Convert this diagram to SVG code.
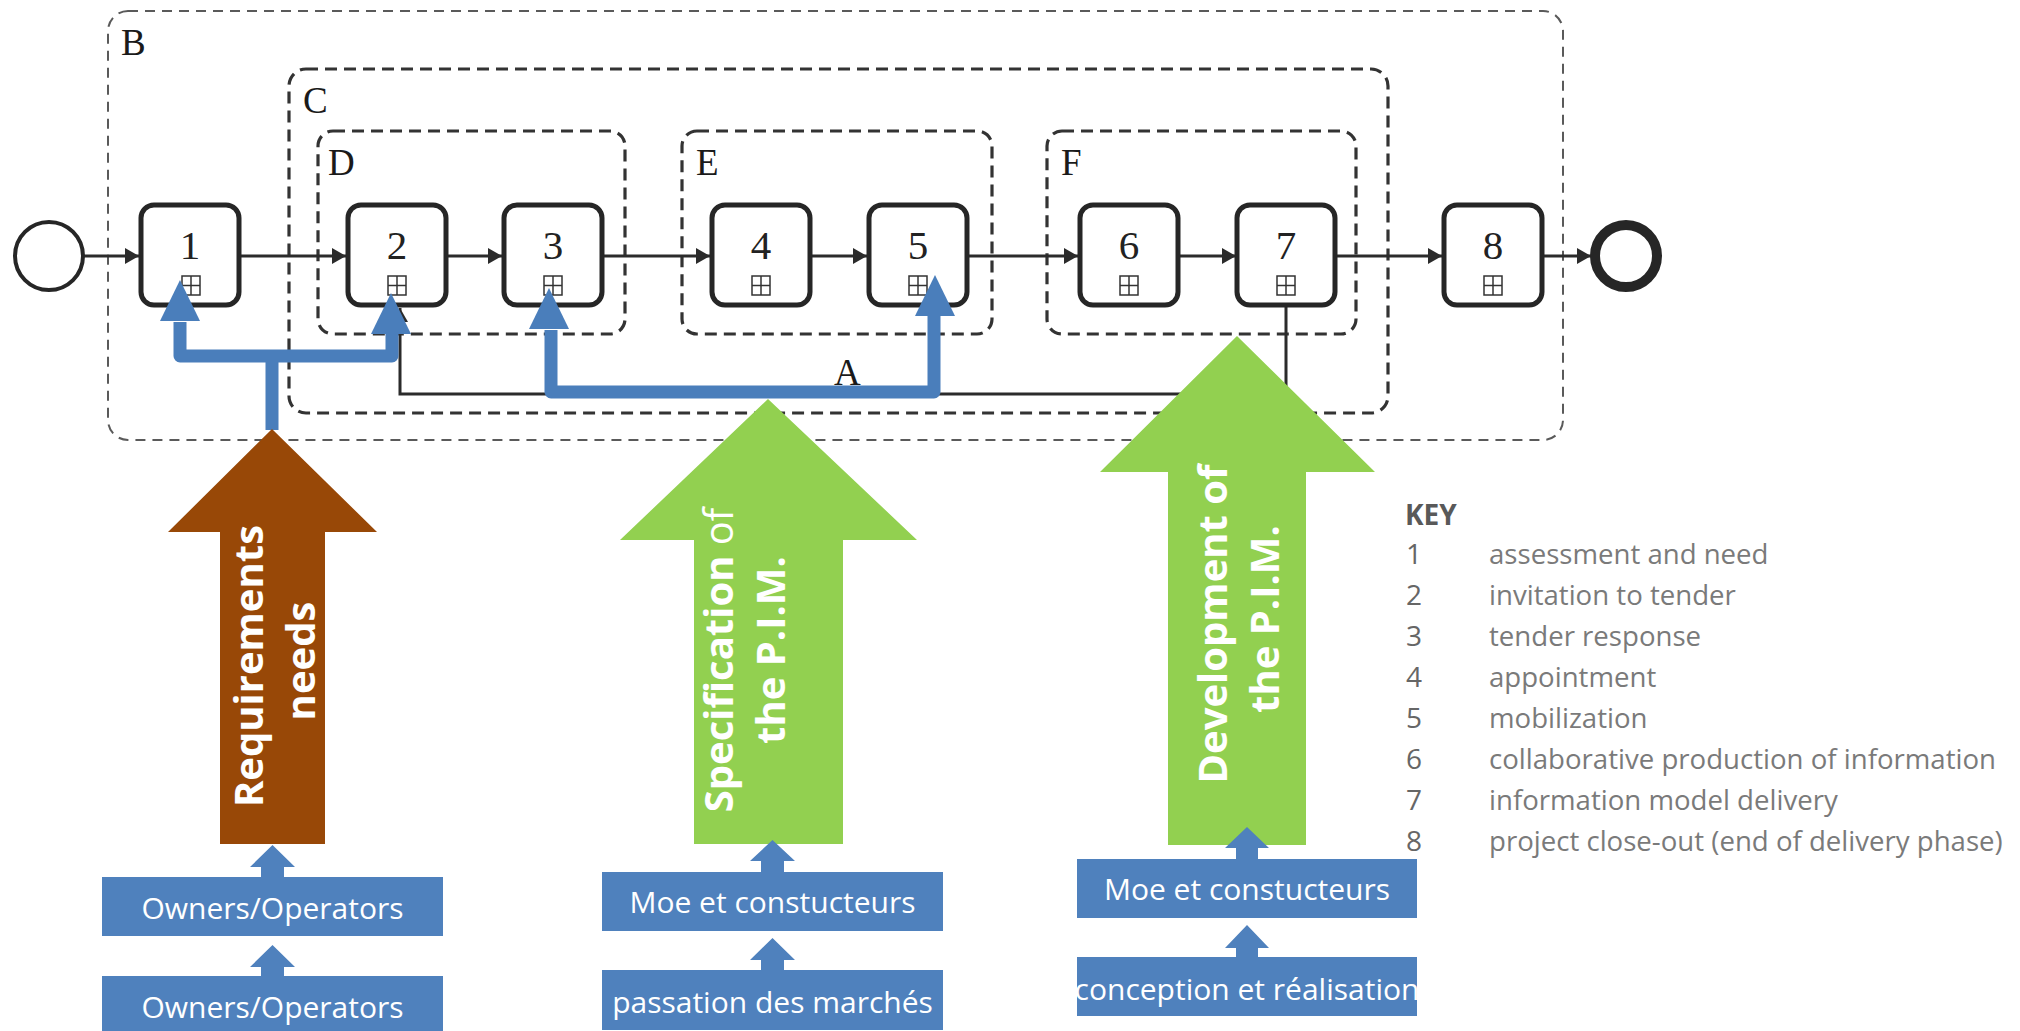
<svg xmlns="http://www.w3.org/2000/svg" width="2020" height="1031" viewBox="0 0 2020 1031">
<style>
.grpB{fill:none;stroke:#5a5a5a;stroke-width:2;stroke-dasharray:10 7}
.grp{fill:none;stroke:#333;stroke-width:3.2;stroke-dasharray:12 7}
.lbl{font-family:"Liberation Serif",serif;font-size:37px;fill:#1a1a1a}
.task rect.b{fill:#fff;stroke:#262626;stroke-width:5}
.task text{font-family:"Liberation Serif",serif;font-size:41px;fill:#222;text-anchor:middle}
.task .pm{fill:#fff;stroke:#333;stroke-width:1.5}
.task line{stroke:#333;stroke-width:1.5}
.seq{fill:none;stroke:#2b2b2b;stroke-width:3}
.blue{fill:none;stroke:#4a7ebb;stroke-width:13;stroke-linejoin:round}
.bhead{fill:#4a7ebb}
.big{font-family:"Open Sans","Noto Sans",sans-serif;font-size:40px;font-weight:bold;fill:#fff;text-anchor:middle}
.sbox{fill:#4f81bd}
.stxt{font-family:"Open Sans","Noto Sans",sans-serif;font-size:30px;fill:#fff;text-anchor:middle}
.key{font-family:"Open Sans","Noto Sans",sans-serif;font-size:27.6px;fill:#7a7a7a}
.keyn{font-family:"Open Sans","Noto Sans",sans-serif;font-size:28px;fill:#666}
</style>
<defs>
<marker id="arr" viewBox="0 0 14 16" refX="14" refY="8" markerWidth="14" markerHeight="16" markerUnits="userSpaceOnUse" orient="auto">
<path d="M0,0 L14,8 L0,16 z" fill="#2b2b2b"/>
</marker>
</defs>
<rect width="2020" height="1031" fill="#fff"/>

<g id="groups">
<rect id="B" class="grpB" x="108" y="11" width="1455" height="429" rx="20"/>
<rect id="C" class="grp" x="289" y="69" width="1099" height="344" rx="17"/>
<rect id="D" class="grp" x="318" y="131" width="307" height="203" rx="15"/>
<rect id="E" class="grp" x="682" y="131" width="310" height="203" rx="15"/>
<rect id="F" class="grp" x="1047" y="131" width="309" height="203" rx="15"/>
<text class="lbl" x="121" y="55">B</text>
<text class="lbl" x="303" y="113">C</text>
<text class="lbl" x="328" y="175">D</text>
<text class="lbl" x="696" y="175">E</text>
<text class="lbl" x="1061" y="175">F</text>
<text class="lbl" x="834" y="385">A</text>
</g>

<g id="connectors">
<line class="seq" x1="83" y1="256" x2="139" y2="256" marker-end="url(#arr)"/>
<line class="seq" x1="241" y1="256" x2="346" y2="256" marker-end="url(#arr)"/>
<line class="seq" x1="448" y1="256" x2="502" y2="256" marker-end="url(#arr)"/>
<line class="seq" x1="604" y1="256" x2="710" y2="256" marker-end="url(#arr)"/>
<line class="seq" x1="812" y1="256" x2="867" y2="256" marker-end="url(#arr)"/>
<line class="seq" x1="969" y1="256" x2="1078" y2="256" marker-end="url(#arr)"/>
<line class="seq" x1="1180" y1="256" x2="1236" y2="256" marker-end="url(#arr)"/>
<line class="seq" x1="1337" y1="256" x2="1442" y2="256" marker-end="url(#arr)"/>
<line class="seq" x1="1543" y1="256" x2="1591" y2="256" marker-end="url(#arr)"/>
<path class="seq" d="M1286,307 V394 H400 V308" marker-end="url(#arr)"/>
</g>

<g id="start"><circle cx="49" cy="256" r="34" fill="#fff" stroke="#262626" stroke-width="4"/></g>
<g id="end"><circle cx="1626" cy="256" r="31" fill="#fff" stroke="#262626" stroke-width="10"/></g>

<g id="task1" class="task"><rect class="b" x="141" y="205" width="98" height="100" rx="13"/><text x="190" y="259">1</text><rect class="pm" x="182" y="276" width="18" height="19"/><line x1="191" y1="276" x2="191" y2="295"/><line x1="182" y1="285.5" x2="200" y2="285.5"/></g>
<g id="task2" class="task"><rect class="b" x="348" y="205" width="98" height="100" rx="13"/><text x="397" y="259">2</text><rect class="pm" x="388" y="276" width="18" height="19"/><line x1="397" y1="276" x2="397" y2="295"/><line x1="388" y1="285.5" x2="406" y2="285.5"/></g>
<g id="task3" class="task"><rect class="b" x="504" y="205" width="98" height="100" rx="13"/><text x="553" y="259">3</text><rect class="pm" x="544" y="276" width="18" height="19"/><line x1="553" y1="276" x2="553" y2="295"/><line x1="544" y1="285.5" x2="562" y2="285.5"/></g>
<g id="task4" class="task"><rect class="b" x="712" y="205" width="98" height="100" rx="13"/><text x="761" y="259">4</text><rect class="pm" x="752" y="276" width="18" height="19"/><line x1="761" y1="276" x2="761" y2="295"/><line x1="752" y1="285.5" x2="770" y2="285.5"/></g>
<g id="task5" class="task"><rect class="b" x="869" y="205" width="98" height="100" rx="13"/><text x="918" y="259">5</text><rect class="pm" x="909" y="276" width="18" height="19"/><line x1="918" y1="276" x2="918" y2="295"/><line x1="909" y1="285.5" x2="927" y2="285.5"/></g>
<g id="task6" class="task"><rect class="b" x="1080" y="205" width="98" height="100" rx="13"/><text x="1129" y="259">6</text><rect class="pm" x="1120" y="276" width="18" height="19"/><line x1="1129" y1="276" x2="1129" y2="295"/><line x1="1120" y1="285.5" x2="1138" y2="285.5"/></g>
<g id="task7" class="task"><rect class="b" x="1237" y="205" width="98" height="100" rx="13"/><text x="1286" y="259">7</text><rect class="pm" x="1277" y="276" width="18" height="19"/><line x1="1286" y1="276" x2="1286" y2="295"/><line x1="1277" y1="285.5" x2="1295" y2="285.5"/></g>
<g id="task8" class="task"><rect class="b" x="1444" y="205" width="98" height="100" rx="13"/><text x="1493" y="259">8</text><rect class="pm" x="1484" y="276" width="18" height="19"/><line x1="1493" y1="276" x2="1493" y2="295"/><line x1="1484" y1="285.5" x2="1502" y2="285.5"/></g>

<g id="blue-links">
<path class="blue" d="M272,430 V356"/>
<path class="blue" d="M180,322 V356 H392 V334"/>
<polygon class="bhead" points="180,280 200,321 160,321"/>
<polygon class="bhead" points="391,293 411,334 371,334"/>
<path class="blue" d="M551,330 V392 H934 V316"/>
<polygon class="bhead" points="549,288 569,329 529,329"/>
<polygon class="bhead" points="935,275 955,316 915,316"/>
</g>

<g id="req">
<polygon points="272,429 377,532 325,532 325,844 220,844 220,532 168,532" fill="#984807"/>
<text class="big" transform="translate(263,666) rotate(-90)">Requirements</text>
<text class="big" transform="translate(315,661) rotate(-90)">needs</text>
</g>
<g id="spec">
<polygon points="768,399 917,540 843,540 843,844 694,844 694,540 620,540" fill="#92d050"/>
<text class="big" transform="translate(733,660) rotate(-90)">Specification<tspan font-weight="normal"> of</tspan></text>
<text class="big" transform="translate(785,650) rotate(-90)">the P.I.M.</text>
</g>
<g id="dev">
<polygon points="1237,336 1375,472 1306,472 1306,845 1168,845 1168,472 1100,472" fill="#92d050"/>
<text class="big" transform="translate(1227,624) rotate(-90)">Development of</text>
<text class="big" transform="translate(1279,619) rotate(-90)">the P.I.M.</text>
</g>

<g id="owners">
<polygon points="272.5,845 295,867 284,867 284,878 261,878 261,867 250,867" fill="#4f81bd"/>
<rect class="sbox" x="102" y="877" width="341" height="59"/>
<text class="stxt" x="272.5" y="919">Owners/Operators</text>
<polygon points="272.5,945 295,967 284,967 284,977 261,977 261,967 250,967" fill="#4f81bd"/>
<rect class="sbox" x="102" y="976" width="341" height="60"/>
<text class="stxt" x="272.5" y="1018">Owners/Operators</text>
</g>
<g id="moe1">
<polygon points="772.5,840 795,861 784,861 784,873 761,873 761,861 750,861" fill="#4f81bd"/>
<rect class="sbox" x="602" y="872" width="341" height="59"/>
<text class="stxt" x="772.5" y="913">Moe et constucteurs</text>
<polygon points="772.5,938 795,960 784,960 784,971 761,971 761,960 750,960" fill="#4f81bd"/>
<rect class="sbox" x="602" y="970" width="341" height="60"/>
<text class="stxt" x="772.5" y="1013">passation des marchés</text>
</g>
<g id="moe2">
<polygon points="1247,827 1269,848 1258,848 1258,860 1236,860 1236,848 1225,848" fill="#4f81bd"/>
<rect class="sbox" x="1077" y="859" width="340" height="59"/>
<text class="stxt" x="1247" y="900">Moe et constucteurs</text>
<polygon points="1247,925 1269,948 1258,948 1258,958 1236,958 1236,948 1225,948" fill="#4f81bd"/>
<rect class="sbox" x="1077" y="957" width="340" height="59"/>
<text class="stxt" x="1247" y="1000">conception et réalisation</text>
</g>

<g id="key">
<text x="1405" y="525" font-family="'Open Sans','Noto Sans',sans-serif" font-size="28" font-weight="bold" fill="#595959">KEY</text>
<text class="keyn" x="1406" y="564">1</text><text class="key" x="1489" y="564">assessment and need</text>
<text class="keyn" x="1406" y="605">2</text><text class="key" x="1489" y="605">invitation to tender</text>
<text class="keyn" x="1406" y="646">3</text><text class="key" x="1489" y="646">tender response</text>
<text class="keyn" x="1406" y="687">4</text><text class="key" x="1489" y="687">appointment</text>
<text class="keyn" x="1406" y="728">5</text><text class="key" x="1489" y="728">mobilization</text>
<text class="keyn" x="1406" y="769">6</text><text class="key" x="1489" y="769">collaborative production of information</text>
<text class="keyn" x="1406" y="810">7</text><text class="key" x="1489" y="810">information model delivery</text>
<text class="keyn" x="1406" y="851">8</text><text class="key" x="1489" y="851">project close-out (end of delivery phase)</text>
</g>
</svg>
